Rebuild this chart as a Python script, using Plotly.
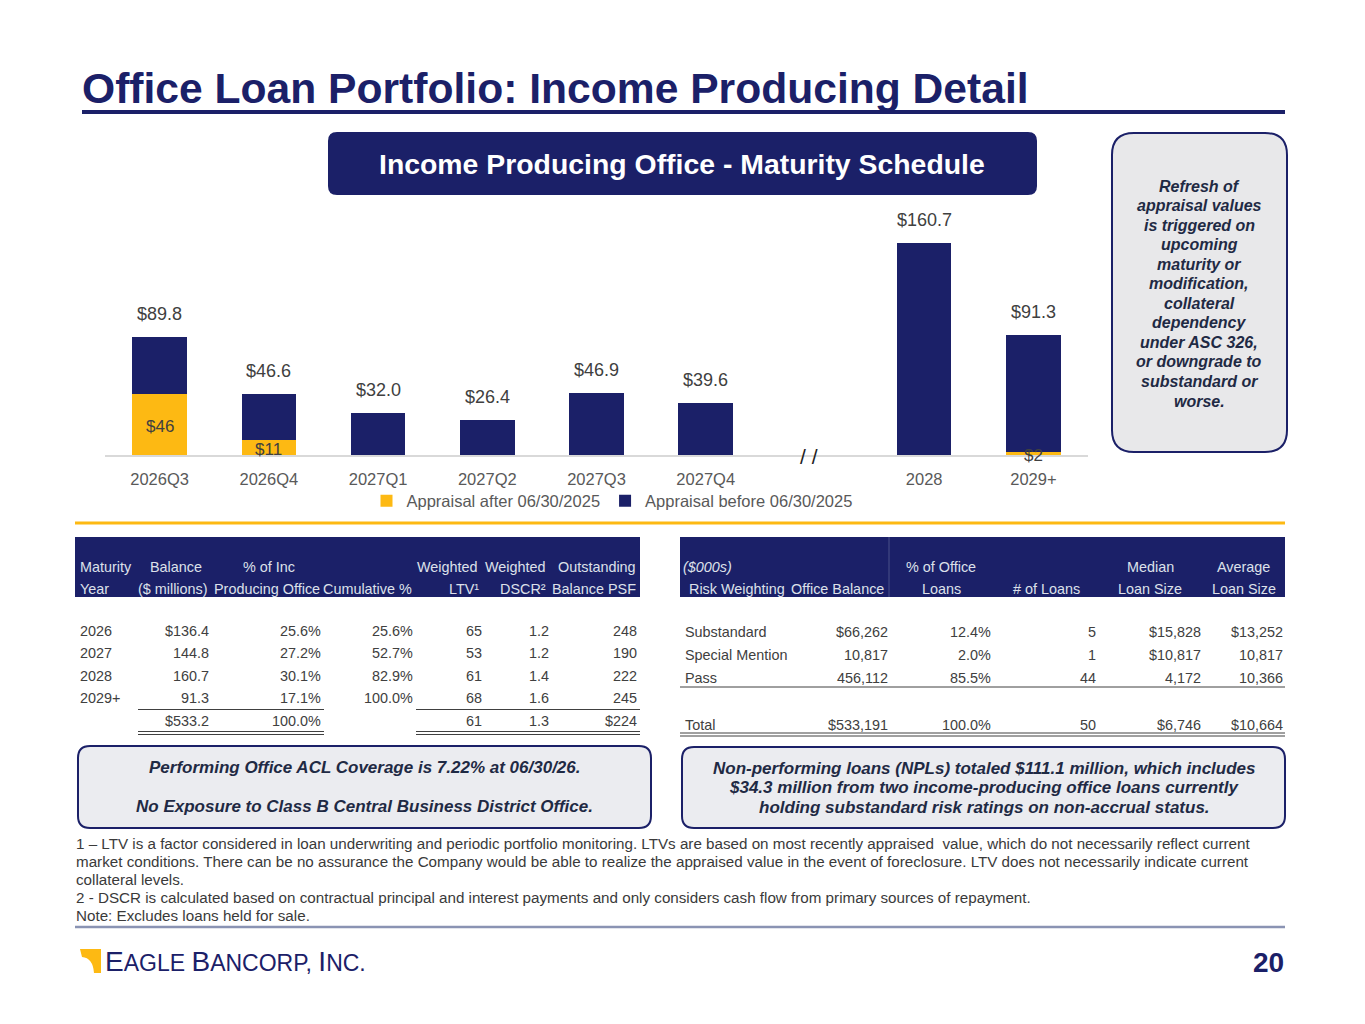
import plotly.graph_objects as go

# ---- chart data (USD millions) ----
categories = ["2026Q3", "2026Q4", "2027Q1", "2027Q2", "2027Q3", "2027Q4", " ", "2028", "2029+"]
after_vals = [46, 11, 0, 0, 0, 0, None, 0, 2]
before_vals = [43.8, 35.6, 32.0, 26.4, 46.9, 39.6, None, 160.7, 89.3]
totals = [89.8, 46.6, 32.0, 26.4, 46.9, 39.6, None, 160.7, 91.3]
break_cat = " "

# ---- maturity table ----
mat_year = ["2026", "2027", "2028", "2029+"]
mat_balance = ["$136.4", "144.8", "160.7", "91.3"]
mat_pct = ["25.6%", "27.2%", "30.1%", "17.1%"]
mat_cum = ["25.6%", "52.7%", "82.9%", "100.0%"]
mat_ltv = ["65", "53", "61", "68"]
mat_dscr = ["1.2", "1.2", "1.4", "1.6"]
mat_psf = ["248", "190", "222", "245"]
mat_total = ["", "$533.2", "100.0%", "", "61", "1.3", "$224"]
mat_head1 = ["Maturity", "Balance", "% of Inc", "", "Weighted", "Weighted", "Outstanding"]
mat_head2 = ["Year", "($ millions)", "Producing Office", "Cumulative %", "LTV\u00b9", "DSCR\u00b2", "Balance PSF"]

# ---- risk weighting table ($000s) ----
risk_name = ["Substandard", "Special Mention", "Pass"]
risk_balance = ["$66,262", "10,817", "456,112"]
risk_pct = ["12.4%", "2.0%", "85.5%"]
risk_count = ["5", "1", "44"]
risk_median = ["$15,828", "$10,817", "4,172"]
risk_avg = ["$13,252", "10,817", "10,366"]
risk_total = ["Total", "$533,191", "100.0%", "50", "$6,746", "$10,664"]
risk_head1 = ["<i>($000s)</i>", "", "% of Office", "", "Median", "Average"]
risk_head2 = ["Risk Weighting", "Office Balance", "Loans", "# of Loans", "Loan Size", "Loan Size"]

callout_lines = ["Refresh of", "appraisal values", "is triggered on", "upcoming", "maturity or",
                 "modification,", "collateral", "dependency", "under ASC 326,", "or downgrade to",
                 "substandard or", "worse."]
left_box_lines = ["Performing Office ACL Coverage is 7.22% at 06/30/26.", "",
                  "No Exposure to Class B Central Business District Office."]
right_box_lines = ["Non-performing loans (NPLs) totaled $111.1 million, which includes",
                   "$34.3 million from two income-producing office loans currently",
                   "holding substandard risk ratings on non-accrual status."]
footnotes = [
    "1 \u2013 LTV is a factor considered in loan underwriting and periodic portfolio monitoring. LTVs are based on most recently appraised  value, which do not necessarily reflect current",
    "market conditions. There can be no assurance the Company would be able to realize the appraised value in the event of foreclosure. LTV does not necessarily indicate current",
    "collateral levels.",
    "2 - DSCR is calculated based on contractual principal and interest payments and only considers cash flow from primary sources of repayment.",
    "Note: Excludes loans held for sale.",
]

# page is drawn with the browser's 8px body margin around the figure
OFF = 8
W, H = 1365 - 2 * OFF, 1024 - 2 * OFF
NAVY = "#1b2068"
GOLD = "#fdb913"
GRAY = "#595959"
DARK = "#404040"
BOXTXT = "#1f2a44"
FONT = "Liberation Sans, Arial, sans-serif"


def fx(x):
    return (x - OFF) / W


def fy(y):
    return 1 - (y - OFF) / H


shapes = []
anns = []


def line(x0, y0, x1, y1, color, width):
    shapes.append(dict(type="line", xref="paper", yref="paper", x0=fx(x0), y0=fy(y0),
                       x1=fx(x1), y1=fy(y1), line=dict(color=color, width=width)))


def rect(x0, y0, x1, y1, fill):
    shapes.append(dict(type="rect", xref="paper", yref="paper", x0=fx(x0), y0=fy(y0),
                       x1=fx(x1), y1=fy(y1), fillcolor=fill, line=dict(width=0), layer="below"))


def rrect(x0, y0, x1, y1, r, fill, border=None, bw=0):
    X = lambda v: f"{fx(v):.5f}"
    Y = lambda v: f"{fy(v):.5f}"
    p = (f"M{X(x0 + r)},{Y(y0)} L{X(x1 - r)},{Y(y0)} Q{X(x1)},{Y(y0)} {X(x1)},{Y(y0 + r)} "
         f"L{X(x1)},{Y(y1 - r)} Q{X(x1)},{Y(y1)} {X(x1 - r)},{Y(y1)} "
         f"L{X(x0 + r)},{Y(y1)} Q{X(x0)},{Y(y1)} {X(x0)},{Y(y1 - r)} "
         f"L{X(x0)},{Y(y0 + r)} Q{X(x0)},{Y(y0)} {X(x0 + r)},{Y(y0)} Z")
    shapes.append(dict(type="path", xref="paper", yref="paper", path=p, fillcolor=fill,
                       line=dict(color=border or fill, width=bw), layer="below"))


def txt(x, y, s, size=14, color=DARK, anchor="left"):
    anns.append(dict(x=fx(x), y=fy(y), xref="paper", yref="paper", text=s, showarrow=False,
                     xanchor=anchor, yanchor="middle", font=dict(size=size, color=color, family=FONT)))


fig = go.Figure()

# stacked bars
fig.add_trace(go.Bar(x=categories, y=after_vals, name="Appraisal after 06/30/2025",
                     marker=dict(color=GOLD, line=dict(width=0)), hoverinfo="skip"))
fig.add_trace(go.Bar(x=categories, y=before_vals, name="Appraisal before 06/30/2025",
                     marker=dict(color=NAVY, line=dict(width=0)), hoverinfo="skip"))

# labels in the middle of the gold segments (x as category index: "2028" would read as a number)
for i, a in enumerate(after_vals):
    if a:
        anns.append(dict(x=i, y=a / 2, xref="x", yref="y", text=f"${a:g}", showarrow=False,
                         yanchor="middle", yshift=-2, font=dict(size=17, color=DARK, family=FONT)))

# total labels
for i, t in enumerate(totals):
    if t is not None:
        anns.append(dict(x=i, y=t, xref="x", yref="y", text=f"${t:.1f}", showarrow=False,
                         yanchor="bottom", yshift=11, font=dict(size=18, color=DARK, family=FONT)))
# axis break mark
anns.append(dict(x=categories.index(break_cat), y=0, xref="x", yref="y", text="/ /", showarrow=False,
                 yanchor="middle", xshift=-6, yshift=-2, font=dict(size=21, color="#222222", family=FONT)))

# ---- title ----
txt(80, 88, "<b>Office Loan Portfolio: Income Producing Detail</b>", 42.6, NAVY)
line(82, 112, 1285, 112, NAVY, 4)

# subtitle box
rrect(328, 132, 1037, 195, 9, NAVY)
txt(682, 164, "<b>Income Producing Office - Maturity Schedule</b>", 28.4, "white", "center")

# right callout
rrect(1112, 133, 1287, 452, 22, "#e8e8ea", NAVY, 2)
for i, s in enumerate(callout_lines):
    txt(1199, 186 + i * 19.55, f"<b><i>{s}</i></b>", 16, BOXTXT, "center")

# gold separator
line(75, 523, 1285, 523, GOLD, 3)

# ---- maturity table ----
rect(75, 537, 640, 597, NAVY)
HDR = "#dde0ea"
m_right = [None, 211, 323, 415, 484, 551, 639]
h1_pos = [(78, "left"), (176, "center"), (269, "center"), (0, "left"), (480, "right"), (548, "right"), (638, "right")]
for s, (x, a) in zip(mat_head1, h1_pos):
    if s:
        txt(x, 567, s, 14.4, HDR, a)
h2_pos = [(78, "left"), (210, "right"), (322, "right"), (414, "right"), (481, "right"), (548, "right"), (638, "right")]
for s, (x, a) in zip(mat_head2, h2_pos):
    txt(x, 589, s, 14.4, HDR, a)
cols = [mat_year, mat_balance, mat_pct, mat_cum, mat_ltv, mat_dscr, mat_psf]
for r in range(len(mat_year)):
    y = 630.5 + r * 22.6
    for ci, col in enumerate(cols):
        if ci == 0:
            txt(78, y, col[r], 14.4, DARK, "left")
        else:
            txt(m_right[ci], y, col[r], 14.4, DARK, "right")
for ci, s in enumerate(mat_total):
    if s:
        txt(m_right[ci], 721, s, 14.4, DARK, "right")
for (a, b) in [(138, 324), (416, 640)]:
    line(a, 709.5, b, 709.5, DARK, 1)
    line(a, 731.5, b, 731.5, DARK, 1)
    line(a, 734.5, b, 734.5, DARK, 1)

# ---- risk weighting table ----
rect(680, 537, 1285, 597, NAVY)
line(889, 537, 889, 597, "#4a5089", 1)
rh1_pos = [(681, "left"), (0, "left"), (941, "center"), (0, "left"), (1150, "center"), (1243, "center")]
for s, (x, a) in zip(risk_head1, rh1_pos):
    if s:
        txt(x, 567, s, 14.4, HDR, a)
rh2_pos = [(737, "center"), (886, "right"), (941, "center"), (1046, "center"), (1150, "center"), (1244, "center")]
for s, (x, a) in zip(risk_head2, rh2_pos):
    txt(x, 589, s, 14.4, HDR, a)
r_right = [None, 890, 993, 1098, 1203, 1285]
rcols = [risk_name, risk_balance, risk_pct, risk_count, risk_median, risk_avg]
for r in range(len(risk_name)):
    y = 631.5 + r * 23.3
    for ci, col in enumerate(rcols):
        if ci == 0:
            txt(683, y, col[r], 14.4, DARK, "left")
        else:
            txt(r_right[ci], y, col[r], 14.4, DARK, "right")
for ci, s in enumerate(risk_total):
    if ci == 0:
        txt(683, 725, s, 14.4, DARK, "left")
    else:
        txt(r_right[ci], 725, s, 14.4, DARK, "right")
line(680, 687, 1285, 687, DARK, 1)
line(680, 733, 1285, 733, DARK, 1)
line(680, 736, 1285, 736, DARK, 1)

# ---- bottom boxes ----
rrect(78, 746, 651, 828, 12, "#ebecf0", NAVY, 2)
for i, s in enumerate(left_box_lines):
    if s:
        txt(364.5, 767 + i * 19.5, f"<b><i>{s}</i></b>", 17, BOXTXT, "center")
rrect(682, 747, 1285, 828, 12, "#ebecf0", NAVY, 2)
for i, s in enumerate(right_box_lines):
    txt(984, 768 + i * 19.5, f"<b><i>{s}</i></b>", 17, BOXTXT, "center")

# ---- footnotes ----
for i, s in enumerate(footnotes):
    txt(74, 843 + i * 18.2, s, 15.2, "#3a3a3a", "left")
line(75, 927, 1285, 927, "#8a93b3", 2.5)

# ---- logo & page number ----
shapes.append(dict(type="path", xref="paper", yref="paper",
                   path=(f"M{fx(80):.5f},{fy(949):.5f} L{fx(101):.5f},{fy(949):.5f} "
                         f"L{fx(101):.5f},{fy(973):.5f} L{fx(94):.5f},{fy(973):.5f} "
                         f"Q{fx(93):.5f},{fy(958):.5f} {fx(82):.5f},{fy(957):.5f} Z"),
                   fillcolor=GOLD, line=dict(width=0)))
logo = ('<span style="font-size:28px">E</span>AGLE <span style="font-size:28px">B</span>'
        'ANCORP, <span style="font-size:28px">I</span>NC.')
anns.append(dict(x=fx(103), y=fy(961), xref="paper", yref="paper", text=logo, showarrow=False,
                 xanchor="left", yanchor="middle", font=dict(size=23, color=NAVY, family=FONT)))
txt(1286, 962, "<b>20</b>", 28, NAVY, "right")

fig.update_layout(
    width=W, height=H,
    margin=dict(l=0, r=0, t=0, b=0),
    paper_bgcolor="white", plot_bgcolor="rgba(0,0,0,0)",
    barmode="stack", bargap=0.5,
    font=dict(family=FONT, color=GRAY),
    xaxis=dict(domain=[fx(105), fx(1088)], type="category", categoryarray=categories,
               categoryorder="array", range=[-0.5, 8.5], showgrid=False, showline=True,
               linecolor="#d9d9d9", linewidth=1.5, ticks="", ticklabelstandoff=8,
               tickfont=dict(size=16.5, color=GRAY, family=FONT), fixedrange=True),
    yaxis=dict(domain=[fy(455), fy(150)], range=[0, 231.2], visible=False, fixedrange=True),
    legend=dict(orientation="h", x=fx(612), xanchor="center", y=fy(501), yanchor="middle",
                font=dict(size=16.5, color=GRAY, family=FONT), bgcolor="rgba(0,0,0,0)",
                traceorder="normal"),
    shapes=shapes,
    annotations=anns,
)

fig.write_html("out.html")
